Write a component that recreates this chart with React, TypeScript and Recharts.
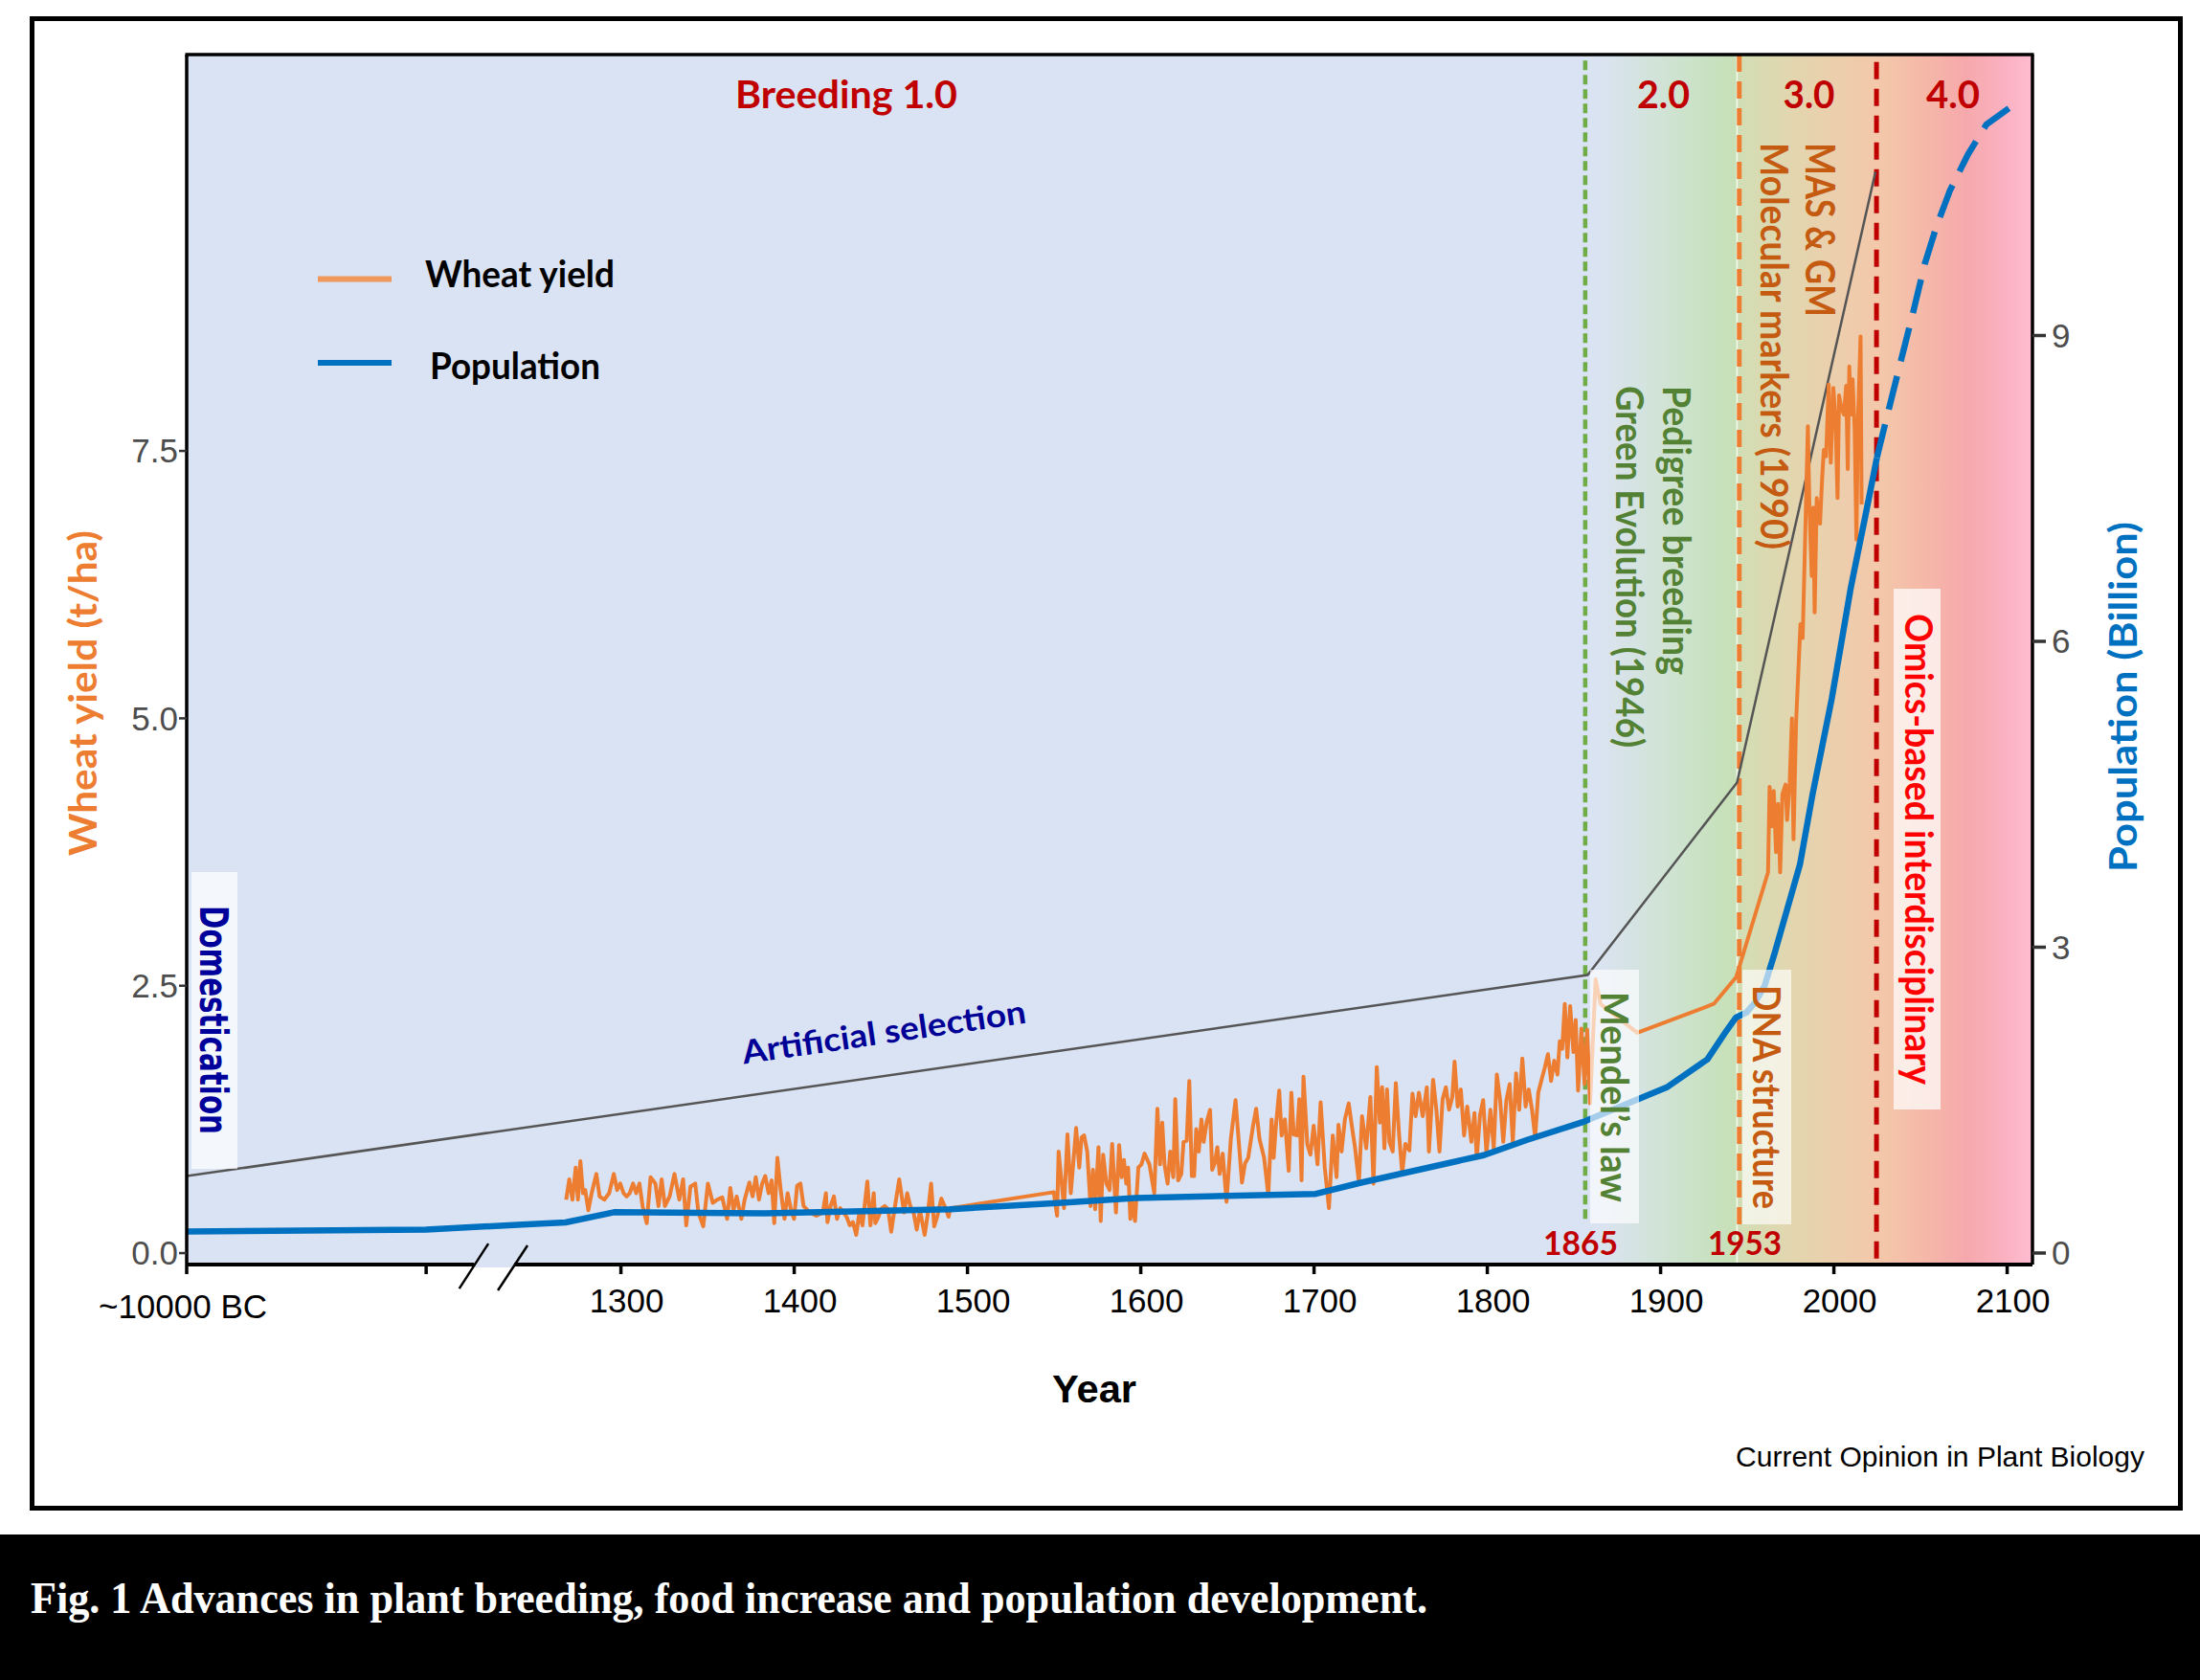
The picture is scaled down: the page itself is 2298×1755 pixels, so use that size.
import React from 'react';
import { ComposedChart, Line, XAxis, YAxis, ReferenceLine } from 'recharts';

// ---------------- DATA ----------------
// Population (billion): historical estimates
const POP_YEARS = [-10000, 0, 1243, 1268, 1296, 1383, 1490, 1552, 1597, 1701, 1727, 1798, 1823, 1856, 1904, 1927, 1938, 1943.5, 1949.6, 1954.6, 1960, 1965.6, 1973, 1980.4, 1987.7, 1998.8, 2009.8, 2019.1, 2024.8];
const POP_VALUES = [0.21, 0.23, 0.28, 0.30, 0.40, 0.39, 0.43, 0.49, 0.54, 0.58, 0.69, 0.96, 1.11, 1.29, 1.63, 1.90, 2.18, 2.31, 2.36, 2.46, 2.62, 2.93, 3.37, 3.81, 4.50, 5.44, 6.53, 7.31, 7.80];
// Population (billion): projection
const PROJ_YEARS = [2024.8, 2030, 2037.9, 2045.9, 2052.4, 2059, 2066.9, 2077.5, 2088, 2101];
const PROJ_VALUES = [7.80, 8.16, 8.70, 9.24, 9.70, 10.06, 10.42, 10.78, 11.07, 11.23];
// Grey envelope of breeding progress (t/ha)
const ENVELOPE_YEARS = [-10000, 1857.9, 1944.1, 2024.0];
const ENVELOPE_VALUES = [0.72, 2.60, 4.40, 10.11];
// Wheat yield (t/ha): [year, value]
const WHEAT: [number, number][] = [
  [1268.4, 0.50], [1270.2, 0.69], [1272.0, 0.50], [1273.9, 0.80], [1275.2, 0.50], [1276.6, 0.86], [1278.1, 0.56], [1279.4, 0.59],
  [1281.2, 0.40], [1283.1, 0.56], [1285.8, 0.74], [1287.7, 0.53], [1290.4, 0.50], [1293.2, 0.56], [1295.9, 0.74], [1297.8, 0.59],
  [1299.6, 0.65], [1301.5, 0.56], [1303.3, 0.53], [1305.1, 0.56], [1307.0, 0.65], [1308.8, 0.56], [1310.7, 0.65], [1312.5, 0.44],
  [1314.9, 0.28], [1317.1, 0.71], [1319.9, 0.65], [1321.7, 0.44], [1323.5, 0.69], [1325.4, 0.44], [1328.1, 0.53], [1330.9, 0.74],
  [1333.7, 0.50], [1335.9, 0.69], [1337.7, 0.26], [1340.1, 0.62], [1342.9, 0.65], [1344.7, 0.38], [1347.5, 0.25], [1350.2, 0.65],
  [1353.0, 0.47], [1355.7, 0.50], [1358.5, 0.52], [1361.3, 0.32], [1363.1, 0.61], [1365.0, 0.40], [1366.8, 0.53], [1369.5, 0.32],
  [1371.4, 0.50], [1374.1, 0.66], [1376.0, 0.53], [1377.8, 0.71], [1379.7, 0.50], [1381.5, 0.65], [1383.3, 0.72], [1385.2, 0.56],
  [1387.0, 0.68], [1388.5, 0.28], [1390.3, 0.89], [1392.2, 0.59], [1394.4, 0.32], [1396.2, 0.56], [1398.1, 0.41], [1399.9, 0.32],
  [1401.7, 0.63], [1403.6, 0.65], [1405.4, 0.44], [1409.1, 0.38], [1412.8, 0.35], [1416.5, 0.38], [1418.3, 0.56], [1419.2, 0.29],
  [1421.0, 0.44], [1422.9, 0.53], [1424.7, 0.32], [1426.6, 0.42], [1428.4, 0.38], [1430.2, 0.34], [1432.1, 0.26], [1433.9, 0.29],
  [1435.8, 0.17], [1437.6, 0.38], [1439.4, 0.26], [1442.2, 0.67], [1444.0, 0.26], [1445.9, 0.56], [1446.8, 0.28], [1448.6, 0.34],
  [1450.5, 0.42], [1452.3, 0.44], [1454.2, 0.41], [1456.0, 0.20], [1457.8, 0.40], [1460.6, 0.69], [1463.4, 0.38], [1465.2, 0.56],
  [1467.0, 0.44], [1468.9, 0.38], [1470.7, 0.22], [1472.6, 0.40], [1475.3, 0.17], [1477.2, 0.38], [1479.0, 0.65], [1480.8, 0.25],
  [1482.7, 0.35], [1484.9, 0.51], [1487.3, 0.42], [1489.1, 0.34], [1490.0, 0.42],
  [1549.8, 0.57], [1551.7, 0.35], [1552.6, 0.95], [1554.4, 0.65], [1555.7, 0.42], [1557.7, 1.11], [1559.6, 0.56], [1560.9, 0.81],
  [1562.7, 1.17], [1564.5, 0.80], [1565.8, 1.08], [1567.3, 1.10], [1569.1, 0.95], [1571.0, 0.44], [1572.4, 0.78], [1573.7, 0.41],
  [1575.6, 0.99], [1576.9, 0.30], [1578.3, 0.92], [1580.2, 0.65], [1582.0, 0.59], [1583.5, 1.02], [1585.7, 0.38], [1587.5, 1.01],
  [1589.0, 0.71], [1590.3, 0.87], [1591.6, 0.65], [1592.7, 0.80], [1594.0, 0.32], [1595.3, 0.47], [1596.7, 0.30], [1598.6, 0.80],
  [1600.4, 0.83], [1602.2, 0.93], [1605.0, 0.83], [1607.8, 0.56], [1609.6, 1.35], [1611.1, 0.83], [1612.4, 1.22], [1613.7, 0.83],
  [1615.5, 0.65], [1617.0, 0.95], [1618.8, 0.71], [1619.9, 1.44], [1621.6, 0.68], [1623.4, 0.74], [1624.7, 1.04], [1626.5, 1.05],
  [1628.0, 1.61], [1629.5, 0.72], [1630.8, 0.72], [1632.0, 1.16], [1633.5, 0.95], [1635.0, 1.25], [1636.3, 1.04], [1638.1, 1.23],
  [1640.0, 1.34], [1641.2, 0.78], [1642.7, 0.84], [1644.2, 0.99], [1645.5, 0.74], [1647.3, 0.93], [1649.5, 0.48], [1652.0, 1.07],
  [1654.7, 1.43], [1657.1, 0.93], [1658.4, 0.66], [1660.2, 0.84], [1662.0, 0.89], [1664.8, 1.19], [1666.6, 1.35], [1668.5, 1.07],
  [1671.2, 0.89], [1673.6, 0.54], [1675.5, 1.25], [1676.7, 0.89], [1678.0, 1.19], [1679.9, 1.52], [1681.3, 1.10], [1683.2, 1.25],
  [1685.4, 0.77], [1686.9, 1.50], [1688.3, 1.11], [1690.2, 1.10], [1691.5, 1.44], [1692.8, 0.68], [1693.9, 1.65], [1696.1, 1.02],
  [1697.9, 0.92], [1699.8, 1.19], [1702.0, 0.83], [1703.8, 1.41], [1706.2, 0.80], [1708.6, 0.42], [1710.8, 1.10], [1713.0, 0.71],
  [1714.1, 1.20], [1715.9, 0.95], [1717.8, 1.25], [1720.0, 1.40], [1721.8, 1.19], [1723.7, 0.98], [1725.9, 0.66], [1727.7, 1.28],
  [1730.1, 0.98], [1732.5, 1.46], [1734.3, 0.65], [1736.2, 1.74], [1738.0, 1.22], [1739.3, 1.55], [1740.6, 0.98], [1742.1, 1.53],
  [1743.5, 1.04], [1745.4, 0.95], [1747.2, 1.59], [1749.1, 1.10], [1750.9, 0.75], [1752.7, 1.02], [1755.0, 0.96], [1756.8, 1.49],
  [1758.6, 1.28], [1760.5, 1.50], [1762.7, 1.28], [1765.1, 1.55], [1766.3, 0.95], [1768.7, 1.62], [1770.6, 1.34], [1772.4, 0.95],
  [1774.2, 1.44], [1776.1, 1.55], [1777.9, 1.34], [1779.8, 1.46], [1781.1, 1.79], [1782.9, 1.37], [1784.7, 1.53], [1786.6, 1.10],
  [1788.4, 1.37], [1790.8, 1.04], [1792.6, 1.31], [1793.9, 0.89], [1795.8, 1.29], [1797.6, 1.43], [1799.5, 0.93], [1801.8, 1.34],
  [1803.7, 0.98], [1805.5, 1.67], [1807.4, 1.43], [1809.2, 1.04], [1811.0, 1.43], [1812.9, 1.58], [1814.7, 1.04], [1816.6, 1.68],
  [1818.4, 1.34], [1820.2, 1.82], [1822.1, 1.37], [1823.9, 1.53], [1825.8, 1.34], [1827.6, 1.08], [1829.4, 1.50], [1831.3, 1.62],
  [1833.1, 1.73], [1835.0, 1.86], [1836.8, 1.61], [1838.6, 1.80], [1840.5, 1.67], [1841.8, 1.98], [1843.2, 1.91], [1844.7, 2.33],
  [1846.2, 1.83], [1847.8, 2.31], [1849.7, 1.88], [1851.0, 2.18], [1852.4, 1.52], [1854.3, 2.10], [1856.1, 1.58], [1857.6, 2.09],
  [1859.3, 1.40], [1862.5, 2.56], [1865.3, 2.33], [1886.5, 2.06], [1930.7, 2.33], [1943.6, 2.58], [1962.0, 3.56], [1962.9, 4.36],
  [1964.2, 3.99], [1965.3, 4.32], [1966.6, 3.75], [1967.8, 4.20], [1969.0, 3.56], [1970.3, 4.29], [1972.1, 4.38], [1973.0, 4.05],
  [1974.5, 4.40], [1975.8, 5.00], [1976.7, 3.87], [1978.2, 4.97], [1980.7, 5.88], [1982.0, 5.75], [1985.0, 7.73], [1985.9, 6.97],
  [1987.2, 6.33], [1988.1, 6.97], [1988.9, 5.99], [1990.1, 7.06], [1992.0, 6.82], [1993.3, 7.27], [1994.2, 7.51], [1995.5, 7.45],
  [1997.0, 8.12], [1998.2, 7.39], [1999.7, 8.09], [2001.0, 7.78], [2002.1, 7.06], [2003.0, 8.02], [2004.3, 7.90], [2005.8, 7.84],
  [2007.1, 8.11], [2008.0, 7.33], [2008.9, 8.29], [2009.8, 7.84], [2010.8, 8.17], [2012.0, 7.70], [2013.0, 6.67], [2013.9, 7.78],
  [2015.4, 8.57], [2016.0, 7.00],
];
// Axis ticks (years) and their labels
const X_TICK_YEARS = [-10000, 0, 1300, 1400, 1500, 1600, 1700, 1800, 1900, 2000, 2100];
const X_TICK_LABELS = ['~10000 BC', '', '1300', '1400', '1500', '1600', '1700', '1800', '1900', '2000', '2100'];
const YL_TICKS = [0, 2.5, 5, 7.5];
const YR_TICKS = [0, 3, 6, 9];
// Era boundary lines (positions as drawn) and labels
const MENDEL_LINE = 1856.5;
const DNA_LINE = 1945.4;
const OMICS_LINE = 2024.6;
const ERA_WHITE_EDGE = 1944.1;

// ---------------- AXIS MAPPING (broken axis) ----------------
const X_MIN = 1049.4;
const BREAK_RATE = 0.01382; // axis units per year before the break
const axisPos = (year: number) => (year >= 1200 ? year : X_MIN + (year + 10000) * BREAK_RATE);

const X_DOMAIN: [number, number] = [X_MIN, 2114.6];
const YL_DOMAIN: [number, number] = [-0.107, 11.206];
const YR_DOMAIN: [number, number] = [-0.113, 11.756];

const W = 2298;
const H = 1755;
const PL = 195, PT = 57, PR = 2123, PB = 1321;
const px = (v: number) => PL + ((v - X_DOMAIN[0]) / (X_DOMAIN[1] - X_DOMAIN[0])) * (PR - PL);
const py = (v: number) => PB - ((v - YL_DOMAIN[0]) / (YL_DOMAIN[1] - YL_DOMAIN[0])) * (PB - PT);

const popData = POP_YEARS.map((y, i) => ({ x: axisPos(y), p: POP_VALUES[i] }));
const projData = PROJ_YEARS.map((y, i) => ({ x: axisPos(y), p: PROJ_VALUES[i] }));
const envData = ENVELOPE_YEARS.map((y, i) => ({ x: axisPos(y), v: ENVELOPE_VALUES[i] }));
const wheatData = WHEAT.map(([y, v]) => ({ x: axisPos(y), v }));
const X_TICK_POS = X_TICK_YEARS.map(axisPos);

const SANS = "'Liberation Sans', Arial, sans-serif";
const CAL = "Lato, 'Open Sans', sans-serif";

const XTick = (props: any) => {
  const { x, y, payload } = props;
  const i = X_TICK_POS.findIndex((p) => Math.abs(p - payload.value) < 0.01);
  const label = i >= 0 ? X_TICK_LABELS[i] : '';
  return (
    <text x={i === 0 ? x - 4 : x + 6} y={i === 0 ? y + 6 : y} dy="0.71em" textAnchor="middle" fill="#000" fontSize={35} fontFamily={SANS}>
      {label}
    </text>
  );
};

type TT = { t: string; x: number; y: number; size: number; len: number; color: string; anchor?: string; rot?: number; family?: string };

const T = ({ t, x, y, size, len, color, anchor = 'start', rot = 0, family = CAL }: TT) => (
  <text
    transform={`translate(${x},${y}) rotate(${rot})`}
    x={0}
    y={0}
    fontSize={size}
    fontWeight="bold"
    fontFamily={family}
    fill={color}
    textAnchor={anchor as any}
    textLength={len}
    lengthAdjust="spacingAndGlyphs"
  >
    {t}
  </text>
);

export default function App() {
  const gx0 = px(MENDEL_LINE);
  return (
    <div style={{ position: 'absolute', left: 0, top: 0, width: W, height: H, background: '#fff', overflow: 'hidden' }}>
      <div style={{ position: 'absolute', left: 31, top: 17, width: 2249, height: 1561, border: '5px solid #000', boxSizing: 'border-box' }} />
      {/* plot background */}
      <svg width={W} height={H} style={{ position: 'absolute', left: 0, top: 0 }}>
        <defs>
          <linearGradient id="eraGrad" x1="0" x2="1" y1="0" y2="0">
            <stop offset="0" stopColor="#DAE3F3" />
            <stop offset="0.04" stopColor="#DAE3F0" />
            <stop offset="0.18" stopColor="#D0E3D4" />
            <stop offset="0.29" stopColor="#C8E1BE" />
            <stop offset="0.335" stopColor="#C8E0B8" />
            <stop offset="0.35" stopColor="#D3DDB4" />
            <stop offset="0.46" stopColor="#E2D6AF" />
            <stop offset="0.57" stopColor="#EDCEAC" />
            <stop offset="0.67" stopColor="#F4C6AA" />
            <stop offset="0.76" stopColor="#F5B8A8" />
            <stop offset="0.85" stopColor="#F6A9AC" />
            <stop offset="0.93" stopColor="#FAB0BF" />
            <stop offset="1" stopColor="#FFBDD2" />
          </linearGradient>
        </defs>
        <rect x={PL} y={PT} width={PR - PL} height={PB - PT} fill="#DAE3F3" />
        <rect x={gx0} y={PT} width={PR - gx0} height={PB - PT} fill="url(#eraGrad)" />
        <line x1={px(ERA_WHITE_EDGE)} x2={px(ERA_WHITE_EDGE)} y1={PT} y2={PB} stroke="#fff" strokeWidth={1.5} strokeOpacity={0.85} />
      </svg>

      <div style={{ position: 'absolute', left: 0, top: 0 }}>
        <ComposedChart width={W} height={H} margin={{ top: PT, right: 115, bottom: 374, left: 135 }}>
          <XAxis
            type="number"
            dataKey="x"
            domain={X_DOMAIN}
            allowDataOverflow
            ticks={X_TICK_POS}
            interval={0}
            height={60}
            tick={<XTick />}
            tickSize={10}
            tickMargin={15}
            axisLine={{ stroke: '#000', strokeWidth: 4 }}
            tickLine={{ stroke: '#000', strokeWidth: 3.5 }}
          />
          <YAxis
            yAxisId="left"
            orientation="left"
            type="number"
            domain={YL_DOMAIN}
            allowDataOverflow
            ticks={YL_TICKS}
            interval={0}
            width={60}
            tickFormatter={(v: number) => v.toFixed(1)}
            tick={{ fill: '#4D4D4D', fontSize: 35, fontFamily: SANS }}
            tickSize={8}
            tickMargin={1}
            axisLine={{ stroke: '#000', strokeWidth: 3.5 }}
            tickLine={{ stroke: '#333', strokeWidth: 2.5 }}
          />
          <YAxis
            yAxisId="right"
            orientation="right"
            type="number"
            domain={YR_DOMAIN}
            allowDataOverflow
            ticks={YR_TICKS}
            interval={0}
            width={60}
            tick={{ fill: '#4D4D4D', fontSize: 35, fontFamily: SANS }}
            tickSize={14}
            tickMargin={6}
            axisLine={{ stroke: '#000', strokeWidth: 3.5 }}
            tickLine={{ stroke: '#333', strokeWidth: 3.5 }}
          />
          <ReferenceLine yAxisId="left" segment={[{ x: MENDEL_LINE, y: 0.32 }, { x: MENDEL_LINE, y: YL_DOMAIN[1] }]} stroke="#70AD47" strokeWidth={4.5} strokeDasharray="10 5" />
          <ReferenceLine yAxisId="left" segment={[{ x: DNA_LINE, y: 0.27 }, { x: DNA_LINE, y: YL_DOMAIN[1] }]} stroke="#ED7D31" strokeWidth={5} strokeDasharray="18 10" />
          <ReferenceLine yAxisId="left" segment={[{ x: OMICS_LINE, y: -0.05 }, { x: OMICS_LINE, y: YL_DOMAIN[1] }]} stroke="#C00000" strokeWidth={5} strokeDasharray="18 10" />
          <Line yAxisId="left" data={envData} dataKey="v" type="linear" stroke="#555" strokeWidth={2.5} dot={false} isAnimationActive={false} />
          <Line yAxisId="left" data={wheatData} dataKey="v" type="linear" stroke="#ED7D31" strokeWidth={4} strokeLinejoin="round" dot={false} isAnimationActive={false} />
          <Line yAxisId="right" data={popData} dataKey="p" type="linear" stroke="#0070C0" strokeWidth={6.5} strokeLinejoin="round" dot={false} isAnimationActive={false} />
          <Line yAxisId="right" data={projData} dataKey="p" type="linear" stroke="#0070C0" strokeWidth={6.5} strokeDasharray="36 16" dot={false} isAnimationActive={false} />
        </ComposedChart>
      </div>

      {/* annotations */}
      <svg width={W} height={H} style={{ position: 'absolute', left: 0, top: 0, pointerEvents: 'none' }}>
        {/* top border of panel */}
        <line x1={PL - 1.5} x2={PR + 1.5} y1={PT} y2={PT} stroke="#000" strokeWidth={3.5} />
        {/* axis break */}
        <rect x={px(1215.3)} y={PB - 3} width={px(1238.5) - px(1215.3)} height={6} fill="#DAE3F3" />
        <line x1={px(1206.7)} y1={py(-0.332)} x2={px(1223.5)} y2={py(0.089)} stroke="#000" strokeWidth={2.5} />
        <line x1={px(1229.0)} y1={py(-0.349)} x2={px(1246.1)} y2={py(0.072)} stroke="#000" strokeWidth={2.5} />

        {/* translucent label boxes */}
        <rect x={200} y={911} width={48} height={310} fill="#fff" fillOpacity={0.7} />
        <rect x={1661} y={1013} width={51} height={265} fill="#fff" fillOpacity={0.65} />
        <rect x={1820} y={1013} width={51} height={266} fill="#fff" fillOpacity={0.65} />
        <rect x={1978} y={615} width={49} height={544} fill="#fff" fillOpacity={0.72} />

        {/* era titles */}
        <T t="Breeding 1.0" x={884} y={113} size={40} len={232} color="#C00000" anchor="middle" />
        <T t="2.0" x={1737.5} y={113} size={40} len={55} color="#C00000" anchor="middle" />
        <T t="3.0" x={1889.5} y={113} size={40} len={54} color="#C00000" anchor="middle" />
        <T t="4.0" x={2040} y={113} size={40} len={56} color="#C00000" anchor="middle" />

        {/* legend */}
        <line x1={332} x2={409} y1={291.5} y2={291.5} stroke="#F0985C" strokeWidth={6} />
        <line x1={332} x2={409} y1={379} y2={379} stroke="#0070C0" strokeWidth={6} />
        <T t="Wheat yield" x={444} y={300} size={39} len={198} color="#000" />
        <T t="Population" x={449} y={396} size={39} len={178} color="#000" />

        {/* vertical annotations */}
        <T t="Domestication" x={209} y={946} size={40} len={239} color="#00009A" rot={90} family="'DejaVu Sans Condensed', 'DejaVu Sans', sans-serif" />
        <T t="Mendel’s law" x={1672} y={1036} size={40} len={220} color="#548235" rot={90} />
        <T t="DNA structure" x={1831} y={1029} size={40} len={234} color="#C55A11" rot={90} />
        <T t="Omics-based interdisciplinary" x={1990} y={641} size={40} len={492} color="#FF0000" rot={90} />
        <T t="Pedigree breeding" x={1737} y={403} size={40} len={302} color="#548235" rot={90} />
        <T t="Green Evolution (1946)" x={1688} y={403} size={40} len={378} color="#548235" rot={90} />
        <T t="MAS & GM" x={1886} y={149} size={42} len={182} color="#C55A11" rot={90} />
        <T t="Molecular markers (1990)" x={1839} y={149} size={41} len={425} color="#C55A11" rot={90} />
        <T t="Artificial selection" x={925} y={1090} size={34} len={299} color="#000096" anchor="middle" rot={-8.3} />

        {/* event years */}
        <T t="1865" x={1651} y={1311} size={34} len={78} color="#C00000" anchor="middle" />
        <T t="1953" x={1822.5} y={1311} size={34} len={77} color="#C00000" anchor="middle" />

        {/* axis titles */}
        <T t="Wheat yield  (t/ha)" x={101} y={724} size={40} len={340} color="#ED7D31" anchor="middle" rot={-90} />
        <T t="Population (Billion)" x={2232} y={728} size={40} len={366} color="#0070C0" anchor="middle" rot={-90} />
        <T t="Year" x={1143} y={1465} size={40} len={88} color="#000" anchor="middle" family={SANS} />
        <text x={2240} y={1532} fontSize={30} fontFamily={SANS} fill="#000" textAnchor="end">Current Opinion in Plant Biology</text>
      </svg>

      <div style={{ position: 'absolute', left: 0, top: 1603, width: W, height: H - 1603, background: '#000' }}>
        <svg width={W} height={H - 1603}>
          <text x={32} y={1685 - 1603} fill="#fff" fontSize={46} fontWeight="bold" fontFamily="'Liberation Serif', 'Times New Roman', serif" textLength={1459} lengthAdjust="spacingAndGlyphs">
            Fig. 1 Advances in plant breeding, food increase and population development.
          </text>
        </svg>
      </div>
    </div>
  );
}
